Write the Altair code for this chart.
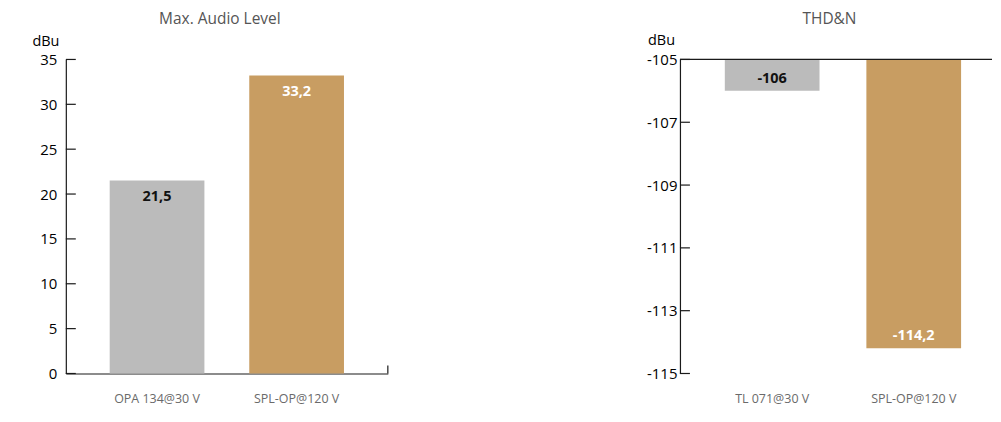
import altair as alt
import pandas as pd

# ---- data ----
left_title = "Max. Audio Level"
left_cats = ["OPA 134@30 V", "SPL-OP@120 V"]
left_vals = [21.5, 33.2]
left_labels = ["21,5", "33,2"]
left_ticks = [0, 5, 10, 15, 20, 25, 30, 35]

right_title = "THD&N"
right_cats = ["TL 071@30 V", "SPL-OP@120 V"]
right_vals = [-106, -114.2]
right_labels = ["-106", "-114,2"]
right_ticks = [-105, -107, -109, -111, -113, -115]
right_base = [-105, -105]

unit = "dBu"
bar_colors = ["#BBBBBB", "#C89D62"]
label_colors = ["#111111", "#FFFFFF"]

# ---- layout ----
W1, W2, H = 323, 313, 315
TOP = 50.5
FONT = "Open Sans"
AXC = "#1a1a1a"


def label_axis():
    return alt.Axis(title=None, labelAngle=0, ticks=False, tickSize=0,
                    labelPadding=19, labelFontSize=12.5, labelColor="#6a6a6a",
                    labelFont=FONT)


def y_axis(values, pad):
    return alt.Axis(title=None, values=values, grid=False, ticks=False, tickSize=0,
                    labelPadding=pad, domainColor=AXC, domainWidth=1.2,
                    minExtent=40, maxExtent=40, labelFontSize=15,
                    labelColor="black", labelFont=FONT, labelBaseline="middle",
                    labelExpr="replace(datum.label, '\u2212', '-')")


def anchor():
    # invisible white rule fixing the top-left edge of a panel's bounds
    return alt.Chart(pd.DataFrame({"t": [1]})).mark_rule(color="white", strokeWidth=1).encode(
        x=alt.value(-40), y=alt.value(-TOP), y2=alt.value(-TOP + 2))


# ---------- left chart ----------
dl = pd.DataFrame({"cat": left_cats, "val": left_vals, "lab": left_labels,
                   "bc": bar_colors, "tc": label_colors})
lax = label_axis()
lax.domain = True
lax.domainColor = AXC
lax.domainWidth = 1.2
xl = alt.X("cat:N", sort=left_cats,
           scale=alt.Scale(paddingInner=0.3214, paddingOuter=0.3143), axis=lax)
yl = alt.Y("val:Q", scale=alt.Scale(domain=[0, 35], nice=False, zero=True),
           axis=y_axis(left_ticks, 9))

l_bars = alt.Chart(dl).mark_bar().encode(
    x=xl, y=yl, color=alt.Color("bc:N", scale=None))
l_text = alt.Chart(dl).mark_text(dy=16, fontWeight="bold", fontSize=14.5, font=FONT).encode(
    x=xl, y=yl, text="lab:N", color=alt.Color("tc:N", scale=None))
l_ticks = alt.Chart(pd.DataFrame({"val": left_ticks})).mark_rule(
    color=AXC, strokeWidth=1.2).encode(y=yl, x=alt.value(0), x2=alt.value(10))
l_end = alt.Chart(pd.DataFrame({"t": [1]})).mark_rule(color=AXC, strokeWidth=1.2).encode(
    x=alt.value(W1), y=alt.value(H - 8), y2=alt.value(H))
l_title = alt.Chart(pd.DataFrame({"t": [left_title]})).mark_text(
    baseline="top", align="center", fontSize=15.5, color="#555555", font=FONT).encode(
    x=alt.value(154.5), y=alt.value(-48), text="t:N")
l_unit = alt.Chart(pd.DataFrame({"t": [unit]})).mark_text(
    baseline="middle", align="center", fontSize=14.5, color="black", font=FONT).encode(
    x=alt.value(-20), y=alt.value(-17.5), text="t:N")

left = alt.layer(anchor(), l_bars, l_text, l_ticks, l_end, l_title, l_unit).properties(
    width=W1, height=H)

# ---------- right chart ----------
dr = pd.DataFrame({"cat": right_cats, "val": right_vals, "base": right_base,
                   "lab": right_labels, "bc": bar_colors, "tc": label_colors})
rax = label_axis()
rax.domain = False
xr = alt.X("cat:N", sort=right_cats,
           scale=alt.Scale(paddingInner=0.331, paddingOuter=0.2676, align=0.592), axis=rax)
yr = alt.Y("val:Q", scale=alt.Scale(domain=[-115, -105], nice=False, zero=False),
           axis=y_axis(right_ticks, 3))

r_bars = alt.Chart(dr).mark_bar().encode(
    x=xr, y=yr, y2="base:Q", color=alt.Color("bc:N", scale=None))
r_text = alt.Chart(dr).mark_text(dy=-12, fontWeight="bold", fontSize=14.5, font=FONT).encode(
    x=xr, y=yr, text="lab:N", color=alt.Color("tc:N", scale=None))
r_ticks = alt.Chart(pd.DataFrame({"val": right_ticks})).mark_rule(
    color=AXC, strokeWidth=1.2).encode(y=yr, x=alt.value(0), x2=alt.value(10))
r_top = alt.Chart(pd.DataFrame({"val": [right_ticks[0]]})).mark_rule(
    color=AXC, strokeWidth=1.2).encode(y=yr, x=alt.value(0), x2=alt.value(W2))
r_title = alt.Chart(pd.DataFrame({"t": [right_title]})).mark_text(
    baseline="top", align="center", fontSize=15.5, color="#555555", font=FONT).encode(
    x=alt.value(150), y=alt.value(-48), text="t:N")
r_unit = alt.Chart(pd.DataFrame({"t": [unit]})).mark_text(
    baseline="middle", align="center", fontSize=14.5, color="black", font=FONT).encode(
    x=alt.value(-18.5), y=alt.value(-18.5), text="t:N")

right = alt.layer(anchor(), r_bars, r_text, r_ticks, r_top, r_title, r_unit).properties(
    width=W2, height=H)

chart = alt.hconcat(left, right, spacing=251).properties(
    padding={"left": 17, "top": 0, "right": 0, "bottom": 0}
).configure_view(stroke=None)

chart.save("out.html", embed_options={"renderer": "svg", "actions": False})
